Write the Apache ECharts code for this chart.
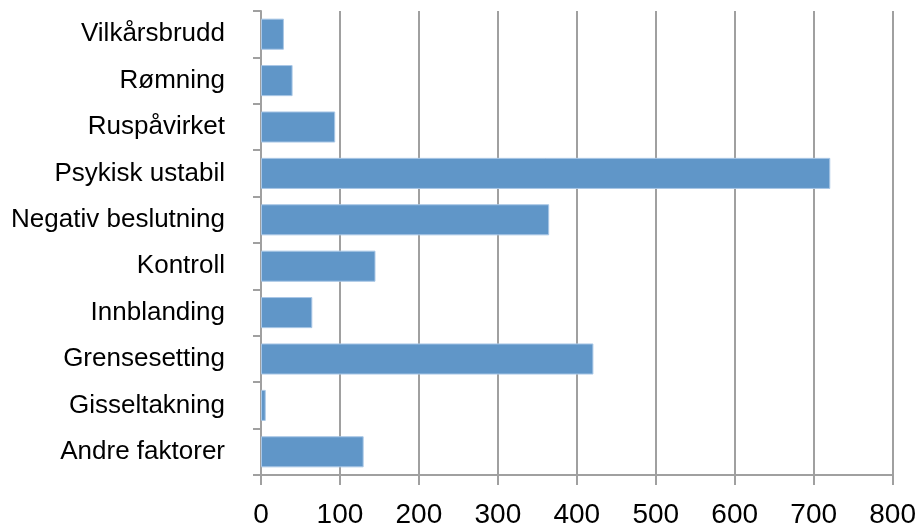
<!DOCTYPE html>
<html>
<head>
<meta charset="utf-8">
<script src="https://cdn.jsdelivr.net/npm/echarts@6/dist/echarts.min.js"></script>
<style>
html,body{margin:0;padding:0;background:#fff;}
#chart{width:919px;height:531px;}
</style>
</head>
<body>
<div id="chart"></div>
<script>
const categories = ["Vilkårsbrudd","Rømning","Ruspåvirket","Psykisk ustabil","Negativ beslutning","Kontroll","Innblanding","Grensesetting","Gisseltakning","Andre faktorer"];
const values = [29, 40, 94, 721, 365, 145, 65, 421, 6, 130];
const xTicks = [0, 100, 200, 300, 400, 500, 600, 700, 800];

const chart = echarts.init(document.getElementById('chart'), null, {renderer:'canvas'});
const gray = '#a0a0a0';
chart.setOption({
  animation: false,
  grid: {left: 261, right: 23, top: 11, bottom: 56, containLabel: false},
  xAxis: {
    type: 'value',
    min: xTicks[0], max: xTicks[xTicks.length-1], interval: 100,
    axisLine: {show: true, lineStyle: {color: gray, width: 2}},
    axisTick: {show: true, length: 10, lineStyle: {color: gray, width: 2}},
    splitLine: {show: true, lineStyle: {color: gray, width: 2}},
    axisLabel: {color: '#000', fontFamily: 'Liberation Sans, Arial', fontSize: 28, margin: 26}
  },
  yAxis: {
    type: 'category',
    data: categories,
    inverse: true,
    axisLine: {show: true, lineStyle: {color: gray, width: 2}},
    axisTick: {show: true, length: 8, lineStyle: {color: gray, width: 2}},
    splitLine: {show: false},
    axisLabel: {color: '#000', fontFamily: 'Liberation Sans, Arial', fontSize: 26, margin: 36, padding: [6, 0, 0, 0]}
  },
  series: [{
    type: 'bar',
    data: values,
    barCategoryGap: '33%',
    itemStyle: {color: '#6096C8', borderColor: '#a9c7e6', borderWidth: 1}
  }]
});
</script>
</body>
</html>
